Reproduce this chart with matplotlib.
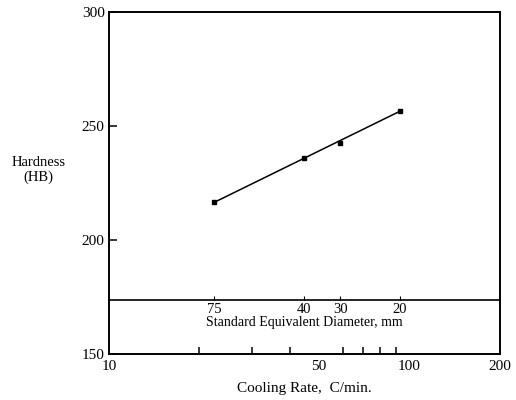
import matplotlib.pyplot as plt
from matplotlib.ticker import FixedLocator, NullFormatter

plt.rcParams['font.family'] = ['Liberation Serif', 'DejaVu Serif']

# data
cooling_rate = [22.4, 44.7, 58.8, 93.0]      # C/min
hardness = [216.5, 236.0, 242.5, 256.5]      # HB
diam_labels = ['75', '40', '30', '20']       # standard equivalent diameter, mm
x_major = [10, 50, 100, 200]
x_minor = [20, 30, 40, 60, 70, 80, 90]
y_ticks = [150, 200, 250, 300]

fig = plt.figure(figsize=(5.16, 4.0), dpi=100)
ax = fig.add_axes([0.211, 0.115, 0.758, 0.855])

ax.set_xscale('log')
ax.set_xlim(10, 200)
ax.set_ylim(150, 300)

ax.plot(cooling_rate, hardness, 's', color='black', ms=3.5)
ax.plot([cooling_rate[0], cooling_rate[-1]], [hardness[0], hardness[-1]],
        '-', color='black', lw=1.1)

ax.xaxis.set_major_locator(FixedLocator(x_major))
ax.xaxis.set_minor_locator(FixedLocator(x_minor))
ax.xaxis.set_minor_formatter(NullFormatter())
ax.set_xticklabels([str(v) for v in x_major])
ax.set_yticks(y_ticks)

ax.tick_params(axis='both', which='both', direction='in', labelsize=11, width=1.1)
ax.tick_params(axis='x', which='major', length=0, pad=4)
ax.tick_params(axis='x', which='minor', length=5)
ax.tick_params(axis='y', length=6, pad=3)

for s in ax.spines.values():
    s.set_linewidth(1.4)

# secondary diameter scale drawn as an inner axis line
sec = ax.secondary_xaxis((173.7 - 150) / 150, functions=(lambda v: v, lambda v: v))
sec.set_xticks(cooling_rate)
sec.set_xticklabels(diam_labels)
sec.xaxis.set_minor_locator(FixedLocator([]))
sec.tick_params(direction='in', length=3, labelsize=10.5, pad=2)
sec.spines['bottom'].set_linewidth(1.2)
sec.set_xlabel('Standard Equivalent Diameter, mm', fontsize=10, labelpad=0)

ax.set_xlabel('Cooling Rate,  C/min.', fontsize=11, labelpad=7)
fig.text(0.075, 0.575, 'Hardness\n(HB)', ha='center', va='center',
         fontsize=10.5, linespacing=1.1)

fig.savefig('out.png', dpi=100)
